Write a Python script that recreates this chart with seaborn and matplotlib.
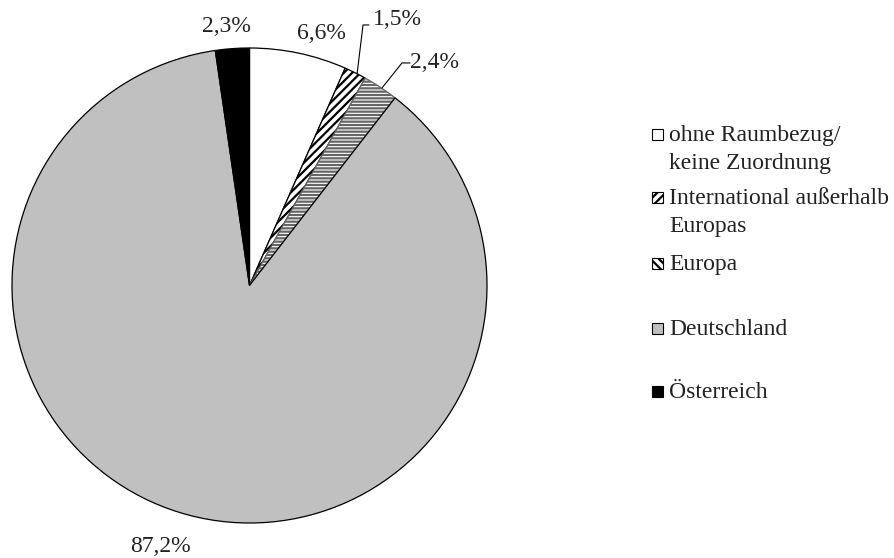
import matplotlib
matplotlib.use("Agg")
import matplotlib.pyplot as plt
from matplotlib.patches import Rectangle
import seaborn as sns

categories = ["ohne Raumbezug/\nkeine Zuordnung", "International außerhalb\nEuropas",
              "Europa", "Deutschland", "Österreich"]
values = [6.6, 1.5, 2.4, 87.2, 2.3]
colors = ["white", "white", "white", "#c0c0c0", "black"]
hatches = [None, "////", "-----", None, None]
legend_hatches = [None, "////", "\\\\\\\\", None, None]

sns.set_theme(style="white")
plt.rcParams["font.family"] = ["Liberation Serif", "DejaVu Serif"]
plt.rcParams["hatch.linewidth"] = 1.6

FS = 17
TXT = "#222222"

fig = plt.figure(figsize=(8.94, 5.58), dpi=100)
R = 237.5
cx, cy = 249.5, 285.5
ax = fig.add_axes([(cx - R) / 894, (558 - cy - R) / 558, 2 * R / 894, 2 * R / 558])

wedges, _ = ax.pie(values, colors=colors, startangle=90, counterclock=False,
                   wedgeprops=dict(edgecolor="black", linewidth=0.9))
for w, h in zip(wedges, hatches):
    if h:
        w.set_hatch(h)
wedges[2].set_edgecolor("#666666")
ax.set_xlim(-1, 1)
ax.set_ylim(-1, 1)
ax.set_aspect("equal")
ax.axis("off")

def fmt(v):
    return f"{v:.1f}".replace(".", ",") + "%"

# (x, y, ha) in data units of the pie (radius 1)
label_pos = [(0.303, 1.06, "center"), (0.52, 1.118, "left"), (0.676, 0.941, "left"),
             (-0.375, -1.1, "center"), (-0.099, 1.09, "center")]
for v, (x, y, ha) in zip(values, label_pos):
    ax.text(x, y, fmt(v), ha=ha, va="center", fontsize=FS, color=TXT, clip_on=False)

# leader lines for the small slices
ax.plot([0.453, 0.478, 0.503], [0.891, 1.097, 1.097], color="black", lw=0.8, clip_on=False)
ax.plot([0.558, 0.642, 0.676], [0.832, 0.937, 0.937], color="black", lw=0.8, clip_on=False)

# legend (baselines of each entry's first line, in px from top)
legend_base = [141, 204, 270, 335, 398]
line_gap = [28, 28, 0, 0, 0]
for lab, c, h, py, gap in zip(categories, colors, legend_hatches, legend_base, line_gap):
    sq = 11
    fig.patches.append(Rectangle((652 / 894, (558 - py + 1) / 558), sq / 894, sq / 558,
                                 transform=fig.transFigure, facecolor=c, edgecolor="black",
                                 linewidth=0.8, hatch=h))
    for i, ln in enumerate(lab.split("\n")):
        fig.text(669 / 894, 1 - (py + i * gap) / 558, ln, ha="left", va="baseline",
                 fontsize=FS, color=TXT)

fig.savefig("out.png", dpi=100)
